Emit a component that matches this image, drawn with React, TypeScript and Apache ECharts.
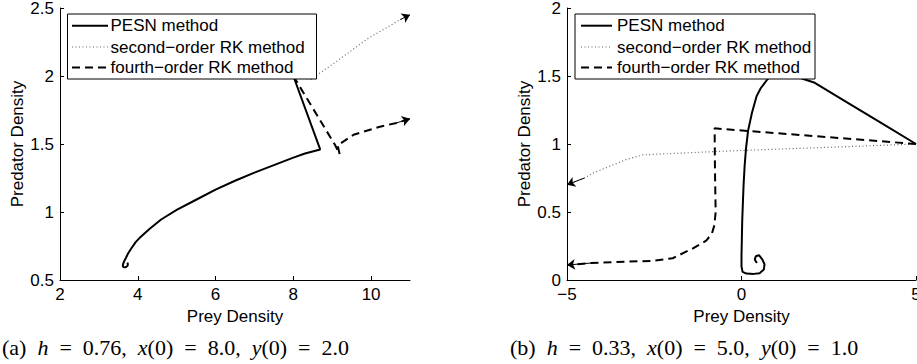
import React, { useEffect, useRef } from 'react';
import * as echarts from 'echarts';

// ---------- data: panel (a) ----------
const pesnA_x = [8.0, 8.69, 8.3, 8.0, 7.5, 7.0, 6.5, 6.0, 5.5, 5.0, 4.6, 4.3, 4.05, 3.95, 3.84, 3.75, 3.69, 3.645, 3.62, 3.615, 3.63, 3.66, 3.7, 3.74, 3.745, 3.73];
const pesnA_y = [2.0, 1.46, 1.43, 1.4, 1.345, 1.29, 1.23, 1.165, 1.09, 1.015, 0.945, 0.875, 0.81, 0.78, 0.735, 0.695, 0.66, 0.635, 0.615, 0.603, 0.596, 0.593, 0.596, 0.606, 0.618, 0.628];
const rk2A_x = [8.0, 8.45, 9.03, 9.89, 10.75, 11.0];
const rk2A_y = [2.0, 1.975, 2.09, 2.27, 2.415, 2.45];
const rk4A_x = [8.0, 9.07, 9.19, 9.14, 9.55, 10.2, 10.65, 11.0];
const rk4A_y = [2.0, 1.494, 1.425, 1.49, 1.568, 1.625, 1.655, 1.685];

// ---------- data: panel (b) ----------
const pesnB_x = [5.0, 4.0, 3.0, 2.1, 1.75, 1.3, 1.0, 0.75, 0.55, 0.43, 0.3, 0.19, 0.13, 0.09, 0.06, 0.04, 0.02, 0.01, 0.0, 0.0, 0.03, 0.14, 0.35, 0.52, 0.64, 0.66, 0.6, 0.5, 0.41, 0.38, 0.44];
const pesnB_y = [1.0, 1.155, 1.31, 1.45, 1.48, 1.53, 1.52, 1.478, 1.41, 1.35, 1.23, 1.1, 0.97, 0.84, 0.7, 0.57, 0.43, 0.3, 0.18, 0.1, 0.06, 0.047, 0.045, 0.05, 0.078, 0.115, 0.15, 0.182, 0.175, 0.15, 0.125];
const rk2B_x = [5.0, 2.44, 0.04, -0.72, -2.83, -3.31, -4.26, -4.5, -5.0];
const rk2B_y = [1.0, 0.975, 0.953, 0.945, 0.92, 0.885, 0.785, 0.75, 0.7];
const rk4B_x = [5.0, -0.77, -0.76, -0.74, -0.78, -0.85, -1.01, -1.39, -1.97, -2.6, -3.31, -4.3, -5.0];
const rk4B_y = [1.0, 1.115, 0.8, 0.5, 0.4, 0.34, 0.29, 0.233, 0.16, 0.14, 0.135, 0.125, 0.11];

const seriesNames = ['PESN method', 'second\u2212order RK method', 'fourth\u2212order RK method'];
const captionA = '(a)\u2002{i|h}\u2002=\u20020.76,\u2002{i|x}(0)\u2002=\u20028.0,\u2002{i|y}(0)\u2002=\u20022.0';
const captionB = '(b)\u2002{i|h}\u2002=\u20020.33,\u2002{i|x}(0)\u2002=\u20025.0,\u2002{i|y}(0)\u2002=\u20021.0';

const SANS = '"Liberation Sans", Arial, Helvetica, sans-serif';
const SERIF = '"Liberation Serif", "Times New Roman", serif';

const solidStyle = { type: 'solid', width: 2, color: '#000' };
const dottedStyle = { type: [1, 2.5], width: 1.2, color: '#666' };
const dashedStyle = { type: [8, 5], width: 2, color: '#000' };

function pairs(xs: number[], ys: number[]) {
  return xs.map((x, i) => [x, ys[i]]);
}

function makeSeries(name: string, xs: number[], ys: number[], idx: number, style: any, arrow: boolean) {
  const n = xs.length;
  const s: any = {
    type: 'line',
    name,
    xAxisIndex: idx,
    yAxisIndex: idx,
    data: pairs(xs, ys),
    symbol: 'none',
    clip: false,
    silent: true,
    lineStyle: style,
    z: 3,
  };
  if (arrow) {
    s.markLine = {
      silent: true,
      symbol: ['none', 'arrow'],
      symbolSize: 8,
      label: { show: false },
      lineStyle: { type: 'solid', width: 1, color: '#000' },
      emphasis: { disabled: true },
      data: [[{ coord: [xs[n - 2], ys[n - 2]] }, { coord: [xs[n - 1], ys[n - 1]] }]],
    };
  }
  return s;
}

function axisCommon() {
  return {
    type: 'value',
    axisLine: { show: true, onZero: false, lineStyle: { color: '#000', width: 1 } },
    axisTick: { show: true, inside: true, length: 4, lineStyle: { color: '#000', width: 1 } },
    axisLabel: {
      color: '#000', fontSize: 17, fontFamily: SANS, margin: 6,
      formatter: (v: number) => String(v).replace('-', '\u2212'),
    },
    splitLine: { show: false },
    nameLocation: 'middle',
    nameTextStyle: { color: '#000', fontSize: 17, fontFamily: SANS },
  };
}

function legendGraphic(boxX: number, boxW: number, lineX0: number, lineX1: number, textX: number) {
  const rows = [25.7, 47, 67.5];
  const styles = [solidStyle, dottedStyle, dashedStyle];
  const els: any[] = [
    {
      type: 'rect', z: 100, silent: true,
      shape: { x: boxX, y: 14, width: boxW, height: 65 },
      style: { fill: '#fff', stroke: '#000', lineWidth: 1 },
    },
  ];
  rows.forEach((y, i) => {
    const st: any = styles[i];
    els.push({
      type: 'line', z: 101, silent: true,
      shape: { x1: lineX0, y1: y, x2: lineX1, y2: y },
      style: { stroke: st.color, lineWidth: st.width, lineDash: Array.isArray(st.type) ? st.type : null },
    });
    els.push({
      type: 'text', z: 101, silent: true, x: textX, y,
      style: { text: seriesNames[i], fill: '#000', font: `17px ${SANS}`, verticalAlign: 'middle', align: 'left' },
    });
  });
  return els;
}

function captionGraphic(x: number, text: string) {
  return {
    type: 'text', z: 100, silent: true, x, y: 347,
    style: {
      text,
      fill: '#000',
      fontFamily: SERIF,
      fontSize: 22,
      verticalAlign: 'middle',
      align: 'left',
      rich: { i: { fontStyle: 'italic', fontFamily: SERIF, fontSize: 22, fill: '#000' } },
    },
  };
}

export default function App() {
  const ref = useRef<HTMLDivElement>(null);
  useEffect(() => {
    if (!ref.current) return;
    const chart = echarts.init(ref.current, undefined, { renderer: 'svg' });
    const option: any = {
      animation: false,
      textStyle: { fontFamily: SANS },
      grid: [
        { left: 60, top: 8, width: 350, height: 272, containLabel: false, outerBoundsMode: 'none' },
        { left: 567, top: 8, width: 349, height: 272, containLabel: false, outerBoundsMode: 'none' },
      ],
      xAxis: [
        { ...axisCommon(), gridIndex: 0, min: 2, max: 11, interval: 2, name: 'Prey Density', nameGap: 22,
          axisLabel: { ...axisCommon().axisLabel, showMaxLabel: false } },
        { ...axisCommon(), gridIndex: 1, min: -5, max: 5, interval: 5, name: 'Prey Density', nameGap: 22 },
      ],
      yAxis: [
        { ...axisCommon(), gridIndex: 0, min: 0.5, max: 2.5, interval: 0.5, name: 'Predator Density', nameGap: 33 },
        { ...axisCommon(), gridIndex: 1, min: 0, max: 2, interval: 0.5, name: 'Predator Density', nameGap: 33 },
      ],
      series: [
        makeSeries(seriesNames[0], pesnA_x, pesnA_y, 0, solidStyle, false),
        makeSeries(seriesNames[1], rk2A_x, rk2A_y, 0, dottedStyle, true),
        makeSeries(seriesNames[2], rk4A_x, rk4A_y, 0, dashedStyle, true),
        makeSeries(seriesNames[0], pesnB_x, pesnB_y, 1, solidStyle, false),
        makeSeries(seriesNames[1], rk2B_x, rk2B_y, 1, dottedStyle, true),
        makeSeries(seriesNames[2], rk4B_x, rk4B_y, 1, dashedStyle, true),
      ],
      graphic: [
        ...legendGraphic(67.5, 249, 72, 108, 110.5),
        ...legendGraphic(575, 240, 581, 612, 617),
        captionGraphic(2, captionA),
        captionGraphic(510, captionB),
      ],
    };
    chart.setOption(option);
    return () => chart.dispose();
  }, []);
  return (
    <div
      ref={ref}
      style={{ position: 'absolute', left: 0, top: 0, width: 917, height: 364, background: '#fff' }}
    />
  );
}
